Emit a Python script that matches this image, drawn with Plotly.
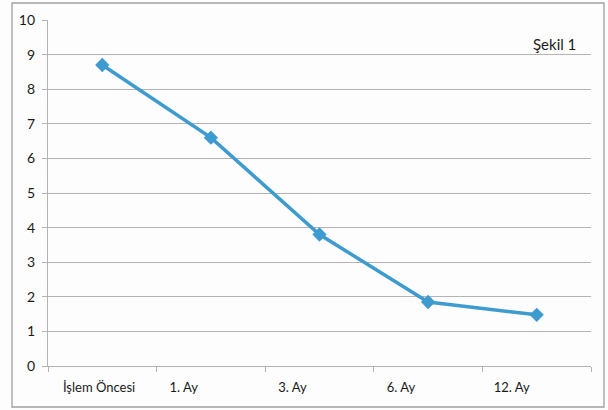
import plotly.graph_objects as go

# Measurement periods and mean scores
periods = ["İşlem Öncesi", "1. Ay", "3. Ay", "6. Ay", "12. Ay"]
scores = [8.7, 6.6, 3.8, 1.85, 1.48]
# Horizontal nudge of each period label (in category units)
label_shift = [-0.03, -0.25, -0.25, -0.25, -0.23]
y_ticks = list(range(0, 11))

idx = list(range(len(periods)))
line_color = "#3D9BD0"
grid_color = "#B3B3B3"
text_color = "#1A1A1A"
font_family = "Lato, 'Liberation Sans', sans-serif"

fig = go.Figure()

fig.add_trace(go.Scatter(
    x=idx, y=scores,
    mode="lines+markers",
    line=dict(color=line_color, width=3.5),
    marker=dict(symbol="diamond", size=11, color=line_color),
    showlegend=False, hoverinfo="skip",
))

# Invisible trace on the overlay axis carrying the category boundary ticks
fig.add_trace(go.Scatter(
    x=[-0.5, len(periods) - 0.5], y=[None, None],
    xaxis="x2", mode="markers", showlegend=False, hoverinfo="skip",
))

fig.update_layout(
    width=608, height=410,
    margin=dict(l=48, r=17, t=20, b=44),
    paper_bgcolor="#FDFDFD",
    plot_bgcolor="#FDFDFD",
    font=dict(family=font_family, size=13, color=text_color),
    xaxis=dict(
        range=[-0.5, len(periods) - 0.5],
        tickmode="array",
        tickvals=[i + s for i, s in zip(idx, label_shift)],
        ticktext=periods,
        ticks="",
        showgrid=False, zeroline=False, showline=False,
        ticklabelstandoff=12,
        tickfont=dict(size=13, color=text_color),
    ),
    xaxis2=dict(
        overlaying="x", anchor="y",
        range=[-0.5, len(periods) - 0.5],
        tickmode="array",
        tickvals=[i - 0.5 for i in range(len(periods) + 1)],
        ticktext=[""] * (len(periods) + 1),
        ticks="outside", ticklen=5, tickcolor=grid_color, tickwidth=1.3,
        showline=True, linecolor=grid_color, linewidth=1.3,
        showgrid=False, zeroline=False,
    ),
    yaxis=dict(
        range=[0, 10],
        tickmode="array", tickvals=y_ticks,
        ticks="outside", ticklen=5, tickcolor=grid_color, tickwidth=1.3,
        showline=True, linecolor=grid_color, linewidth=1.3,
        showgrid=True, gridcolor=grid_color, gridwidth=1.3,
        zeroline=False,
        ticklabelstandoff=4,
        tickfont=dict(size=14, color=text_color),
    ),
    shapes=[dict(
        type="rect", xref="paper", yref="paper",
        x0=-0.0663, x1=1.0239, y0=-0.1185, y1=1.0491,
        line=dict(color="#A0A0A0", width=1.3),
        fillcolor="rgba(0,0,0,0)", layer="below",
    )],
    annotations=[dict(
        text="Şekil 1", xref="paper", yref="paper",
        x=0.976, y=0.932, xanchor="right", yanchor="middle",
        showarrow=False, font=dict(size=15, color=text_color),
    )],
)

fig.write_html("out.html")
